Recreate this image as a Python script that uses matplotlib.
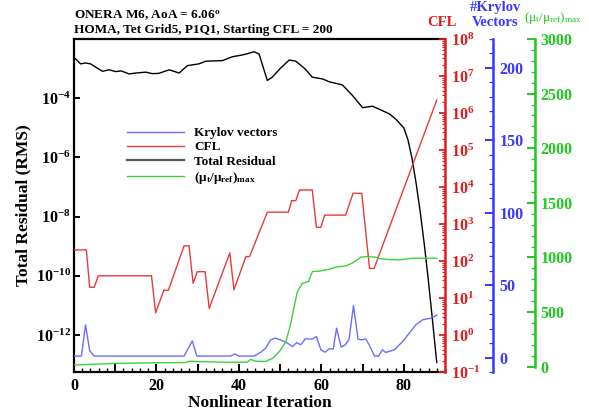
import numpy as np
import matplotlib
matplotlib.use("Agg")
import matplotlib.pyplot as plt
from matplotlib.ticker import FixedLocator, MultipleLocator, LogLocator, FuncFormatter, NullLocator, NullFormatter
from matplotlib.lines import Line2D

plt.rcParams['font.family'] = ['Liberation Serif', 'DejaVu Serif']
plt.rcParams['font.weight'] = 'bold'
plt.rcParams['axes.labelweight'] = 'bold'
plt.rcParams['mathtext.fontset'] = 'custom'
plt.rcParams['mathtext.rm'] = 'Liberation Serif'
plt.rcParams['mathtext.bf'] = 'Liberation Serif:bold'
plt.rcParams['mathtext.it'] = 'Liberation Serif:italic'

# ---- data -------------------------------------------------------------
# total residual (RMS), given as log10 values
res_iter = [0, 1.6, 2.8, 4, 5.5, 6.9, 8.5, 10.1, 11.5, 13.35, 15, 17.4, 19, 20.6,
            23.1, 25.5, 27.5, 30.3, 32, 34, 36, 38.4, 40.8, 42, 43.7, 44.9, 46.9,
            48.1, 50, 52.2, 53.8, 56, 57.8, 60.3, 62, 65.1, 67.5, 70, 72.4, 74.5,
            76.5, 78, 80, 81, 82, 83, 84, 85, 86, 87, 88]
res_log = [-2.62, -2.84, -2.81, -2.84, -2.97, -3.09, -3.04, -3.10, -3.08, -3.18,
           -3.15, -3.12, -3.17, -3.16, -3.04, -3.15, -2.90, -2.84, -2.75, -2.74,
           -2.73, -2.60, -2.54, -2.50, -2.43, -2.51, -3.40, -3.29, -3.00, -2.71,
           -2.75, -3.00, -3.29, -3.35, -3.45, -3.55, -3.90, -4.32, -4.27, -4.40,
           -4.53, -4.70, -5.00, -5.40, -6.03, -6.88, -7.85, -8.96, -10.20, -11.55,
           -12.93]

# CFL number, given as log10 values
cfl_iter = [0, 3, 3.8, 4.9, 5.9, 18.8, 19.8, 21.8, 22.9, 26.7, 27.9, 28.9, 29.9,
            31.8, 32.8, 37.8, 38.8, 41.7, 42.6, 46.9, 52, 52.8, 53.8, 54.7, 57.8,
            58.8, 59.9, 60.8, 65.9, 67.7, 69.8, 71.7, 72.8, 88]
cfl_log = [2.30, 2.30, 1.29, 1.29, 1.60, 1.60, 0.60, 1.21, 1.21, 2.41, 2.41, 1.40,
           1.71, 1.71, 0.72, 2.22, 1.22, 2.12, 2.12, 3.32, 3.32, 3.63, 3.63, 3.92,
           3.92, 2.91, 2.91, 3.24, 3.24, 3.83, 3.83, 1.80, 1.80, 6.35]

# number of Krylov vectors
kry_iter = [0, 1.8, 2.8, 3.8, 4.9, 26.7, 28.7, 29.8, 38, 39, 40, 43.7, 45.3, 46.5,
            47.7, 48.8, 50.1, 51.8, 53, 54, 55, 56.1, 57.8, 58.8, 59.9, 60.9, 61.9,
            62.9, 63.7, 64.8, 65.8, 66.7, 67.8, 68.9, 69.8, 70.8, 71.8, 72.9, 73.9,
            74.8, 75.6, 77.7, 79.7, 82.9, 84.5, 86.6, 88]
kry_val = [1, 1, 22.5, 4.8, 1, 1, 11.5, 1, 1, 2.5, 1, 1, 3.6, 6.5, 12.2, 13.4,
           12.2, 9.9, 7.6, 10.3, 8.8, 12.9, 12.7, 14.5, 5.3, 3.7, 6, 6, 20.3, 7.2,
           8.8, 12.2, 35.9, 12.7, 12.2, 12.9, 7.6, 1, 1, 5.3, 3.5, 5.3, 11, 22.5,
           26, 27.2, 29.2]

# maximum eddy viscosity ratio
mut_iter = [0, 10, 20, 27, 28, 31, 37.6, 42, 42.9, 44, 46.5, 48.2, 49.8, 51.4,
            52.6, 53.4, 54.2, 55.4, 56.9, 57.8, 59.5, 61.9, 63.5, 65.9, 67.5, 69.6,
            71.2, 73.2, 74, 76, 78.9, 82.1, 88]
mut_val = [15, 30, 36, 38, 50, 46, 40, 42, 68, 50, 48, 77, 137, 229, 398, 550,
           687, 764, 779, 871, 875, 893, 911, 923, 948, 1003, 1008, 1003, 990,
           982, 978, 993, 993]

# ---- styling ----------------------------------------------------------
RED = '#e01c1c'
BLUE = '#3838ff'
GREEN = '#1fc81f'
RED_LINE = '#e83a3a'
BLUE_LINE = '#6c6cff'
GREEN_LINE = '#3ad23a'

W, H = 589, 412
PT = 72 / 100  # points per pixel at 100 dpi
fig = plt.figure(figsize=(W / 100, H / 100), dpi=100)
ax = fig.add_axes([74 / W, 40 / H, (445 - 74) / W, 333 / H])

def px(x, y):
    return x / W, 1 - y / H

# main axis: total residual
ax.plot(res_iter, 10 ** np.array(res_log), color='black', lw=1.0)
ax.set_xlim(0, 90)
ax.set_yscale('log')
ax.set_ylim(10 ** -13.25, 1e-2)
ax.yaxis.set_major_locator(FixedLocator([1e-12, 1e-10, 1e-8, 1e-6, 1e-4]))
ax.yaxis.set_minor_locator(NullLocator())
ax.yaxis.set_major_formatter(FuncFormatter(
    lambda v, p: r'$\mathbf{10^{%d}}$' % int(round(np.log10(v)))))
ax.xaxis.set_major_locator(FixedLocator([0, 10, 20, 30, 40, 50, 60, 70, 80]))
ax.xaxis.set_minor_locator(MultipleLocator(2))
ax.xaxis.set_major_formatter(FuncFormatter(
    lambda v, p: '%d' % v if int(round(v)) % 20 == 0 else ''))
ax.xaxis.get_offset_text().set_visible(False)
ax.tick_params(axis='both', which='major', direction='in', width=1.4,
               labelsize=11.5, top=False, right=False)
ax.tick_params(axis='x', which='major', length=6, pad=4)
ax.tick_params(axis='x', which='minor', direction='in', length=3, width=1.0,
               top=False)
ax.tick_params(axis='y', which='major', length=4.5, pad=2)
for s in ['left', 'bottom', 'top']:
    ax.spines[s].set_linewidth(1.6)
ax.spines['right'].set_visible(False)
ax.set_xlabel('Nonlinear Iteration', fontsize=12.5, labelpad=1)
ax.set_ylabel('Total Residual (RMS)', fontsize=12.5, labelpad=3)

# CFL axis
axr = ax.twinx()
axr.plot(cfl_iter, 10 ** np.array(cfl_log), color=RED_LINE, lw=1.0)
axr.set_yscale('log')
axr.set_ylim(0.1, 1e8)
axr.yaxis.set_major_locator(LogLocator(base=10, numticks=20))
axr.yaxis.set_minor_locator(LogLocator(base=10, subs=np.arange(2, 10), numticks=20))
axr.yaxis.set_minor_formatter(NullFormatter())
axr.yaxis.set_major_formatter(FuncFormatter(
    lambda v, p: r'$\mathbf{10^{%d}}$' % int(round(np.log10(v)))))
axr.tick_params(axis='y', which='major', direction='in', length=4.5, width=1.3,
                colors=RED, labelsize=11.5, pad=4.5)
axr.tick_params(axis='y', which='minor', direction='in', length=2.5, width=0.9,
                colors=RED)
for s in ['left', 'bottom', 'top']:
    axr.spines[s].set_visible(False)
axr.spines['right'].set_color(RED)
axr.spines['right'].set_linewidth(1.8)

# Krylov vectors axis
axb = ax.twinx()
axb.plot(kry_iter, kry_val, color=BLUE_LINE, lw=1.0)
axb.set_ylim(-10, 220)
axb.spines['right'].set_position(('outward', 48 * PT))
axb.yaxis.set_major_locator(MultipleLocator(50))
axb.yaxis.set_minor_locator(MultipleLocator(10))
axb.tick_params(axis='y', which='major', direction='in', length=5.5, width=1.4,
                colors=BLUE, labelsize=11.5, pad=4.5)
axb.tick_params(axis='y', which='minor', direction='in', length=3, width=0.9,
                colors=BLUE)
for s in ['left', 'bottom', 'top']:
    axb.spines[s].set_visible(False)
axb.spines['right'].set_color(BLUE)
axb.spines['right'].set_linewidth(1.8)

# eddy viscosity ratio axis
axg = ax.twinx()
axg.plot(mut_iter, mut_val, color=GREEN_LINE, lw=1.0)
axg.set_ylim(-48.6, 3000)
axg.spines['right'].set_position(('outward', 90 * PT))
axg.spines['right'].set_bounds(0, 3000)
axg.yaxis.set_major_locator(MultipleLocator(500))
axg.yaxis.set_minor_locator(MultipleLocator(100))
axg.tick_params(axis='y', which='major', direction='in', length=5.5, width=1.4,
                colors=GREEN, labelsize=11.5, pad=4)
axg.tick_params(axis='y', which='minor', direction='in', length=3, width=0.9,
                colors=GREEN)
for s in ['left', 'bottom', 'top']:
    axg.spines[s].set_visible(False)
axg.spines['right'].set_color(GREEN)
axg.spines['right'].set_linewidth(1.8)

# axis titles
fig.text(*px(442, 26), 'CFL', color=RED, fontsize=10.5, ha='center', va='baseline')
fig.text(*px(496, 10.5), '#Krylov', color=BLUE, fontsize=10.5, ha='center', va='baseline')
fig.text(*px(495, 26), 'Vectors', color=BLUE, fontsize=10.5, ha='center', va='baseline')
fig.text(*px(553, 20.5), r'$\mathregular{(\mu_t/\mu_{ref})_{max}}$', color=GREEN,
         fontsize=9.5, ha='center', va='baseline', fontweight='normal')

# header
fig.text(*px(74, 19), r'ONERA M6, AoA = 6.06$^{\mathbf{o}}$', fontsize=9.5,
         ha='left', va='baseline')
fig.text(*px(74, 32.5), 'HOMA, Tet Grid5, P1Q1, Starting CFL = 200', fontsize=9.5,
         ha='left', va='baseline')

# legend
handles = [Line2D([], [], color=BLUE_LINE, lw=1.0),
           Line2D([], [], color=RED_LINE, lw=1.0),
           Line2D([], [], color='#555555', lw=1.6),
           Line2D([], [], color=GREEN_LINE, lw=1.0)]
labels = ['Krylov vectors', 'CFL', 'Total Residual',
          r'$\mathregular{(\mu_t/\mu_{ref})_{max}}$']
leg = fig.legend(handles, labels, loc='upper left', bbox_to_anchor=px(127, 127),
                 frameon=False, borderpad=0, borderaxespad=0, handlelength=4.3,
                 handletextpad=0.8, labelspacing=0.15, prop=dict(size=9.5))

fig.savefig('out.png', dpi=100)
